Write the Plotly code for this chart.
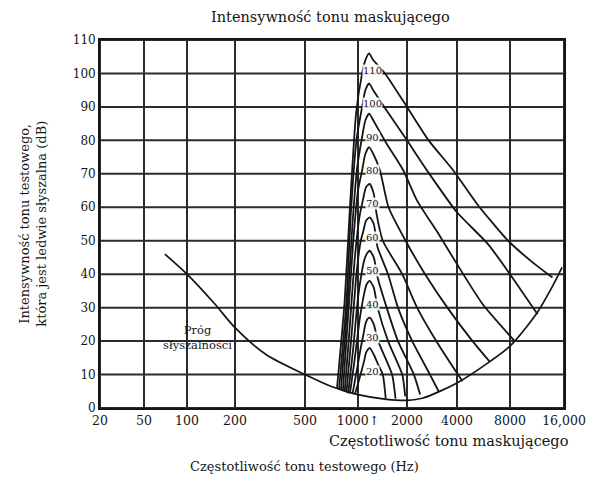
import numpy as np
import plotly.graph_objects as go

# ---- axis definition (frequency gridlines of the reference, non-uniform scale) ----
GRID_FREQS = [20, 50, 100, 200, 500, 1000, 2000, 4000, 8000, 16000]
GRID_POS = [0, 44, 87, 135, 205, 258, 307, 357, 410, 464]
TICK_TEXT = ["20", "50", "100", "200", "500", "1000\u2191", "2000", "4000", "8000", "16,000"]
Y_TICKS = [0, 10, 20, 30, 40, 50, 60, 70, 80, 90, 100, 110]

# ---- threshold of hearing ----
THR_F = [70, 100, 150, 200, 300, 500, 700, 1000, 1500, 2000, 2500, 4000, 6000, 8000, 11300, 14000, 15600]
THR_DB = [46, 40, 31, 24, 16, 10, 6.5, 4, 2.6, 2.3, 3, 7.5, 13.5, 18.5, 28.4, 37, 42]

# ---- masking curves, masker 1000 Hz, level in dB ----
M110_F = [760, 840, 900, 975, 1060, 1110, 1170, 1240, 1465, 2000, 2700, 3800, 5200, 7800, 11000, 13800]
M110_DB = [6, 32, 60, 88, 100, 104, 106, 104, 100, 90, 80, 71, 61, 50, 43, 39]
M100_F = [780, 860, 910, 980, 1060, 1110, 1170, 1240, 1450, 2000, 2640, 4000, 6000, 8000, 11400]
M100_DB = [5.5, 32, 58, 80, 90, 95, 97, 95, 90, 80, 71, 58.5, 49, 40, 28]
M90_F = [800, 870, 930, 990, 1060, 1110, 1170, 1240, 1500, 1900, 2300, 3100, 4000, 5600, 8500]
M90_DB = [5.3, 30, 55, 72, 81, 86, 88, 86, 79, 71, 62, 52, 43, 31, 20]
M80_F = [820, 880, 940, 1000, 1060, 1110, 1170, 1240, 1365, 1540, 1960, 2570, 3500, 4900, 6100]
M80_DB = [5, 28, 50, 65, 71, 76, 78, 76, 71, 60, 50, 40, 30, 20, 14]
M70_F = [840, 900, 960, 1020, 1070, 1120, 1180, 1250, 1300, 1420, 1870, 2300, 3000, 4050, 4300]
M70_DB = [4.8, 25, 45, 57, 62, 66, 67, 64, 58, 50, 40, 30, 20, 10, 8]
M60_F = [860, 920, 980, 1040, 1080, 1120, 1180, 1250, 1320, 1530, 1760, 2150, 2750, 3100]
M60_DB = [4.6, 22, 40, 50, 53, 56, 57, 55, 48, 40, 30, 20, 10, 5]
M50_F = [880, 940, 1000, 1050, 1090, 1130, 1180, 1250, 1320, 1500, 1760, 2200, 2400]
M50_DB = [4.4, 18, 33, 40, 44, 46, 47, 45, 39, 30, 20, 10, 4]
M40_F = [900, 960, 1020, 1060, 1100, 1130, 1180, 1250, 1320, 1530, 1870, 1950]
M40_DB = [4.3, 15, 26, 31, 35, 37, 38, 36, 30, 20, 10, 3.5]
M30_F = [930, 990, 1040, 1080, 1110, 1140, 1180, 1250, 1330, 1620, 1700]
M30_DB = [4.1, 12, 18, 22, 25, 26.5, 27, 25, 20, 10, 2.8]
M20_F = [960, 1010, 1050, 1090, 1120, 1150, 1180, 1250, 1330, 1420, 1480]
M20_DB = [4, 8, 11, 14, 16.5, 17.5, 18, 16, 13, 10, 2.8]

MASK_LEVELS = [110, 100, 90, 80, 70, 60, 50, 40, 30, 20]
MASK_F = [M110_F, M100_F, M90_F, M80_F, M70_F, M60_F, M50_F, M40_F, M30_F, M20_F]
MASK_DB = [M110_DB, M100_DB, M90_DB, M80_DB, M70_DB, M60_DB, M50_DB, M40_DB, M30_DB, M20_DB]


def to_axis(f):
    return np.interp(np.log10(np.asarray(f, dtype=float)), np.log10(GRID_FREQS), GRID_POS)


FONT = "DejaVu Serif"
INK = "#151515"
GRID = "#2a2a2a"

fig = go.Figure()

# grid lines: one trace per line, drawn first so they sit below the curves
for p in GRID_POS:
    fig.add_trace(go.Scatter(x=[p, p], y=[Y_TICKS[0], Y_TICKS[-1]], mode="lines",
                             line=dict(color=GRID, width=2), hoverinfo="skip", showlegend=False))
for v in Y_TICKS:
    fig.add_trace(go.Scatter(x=[GRID_POS[0], GRID_POS[-1]], y=[v, v], mode="lines",
                             line=dict(color=GRID, width=2), hoverinfo="skip", showlegend=False))

for lev, f, db in zip(MASK_LEVELS, MASK_F, MASK_DB):
    fig.add_trace(go.Scatter(x=to_axis(f), y=db, mode="lines",
                             line=dict(color=INK, width=1.8, shape="spline", smoothing=0.6),
                             hoverinfo="skip", showlegend=False))

fig.add_trace(go.Scatter(x=to_axis(THR_F), y=THR_DB, mode="lines",
                         line=dict(color=INK, width=1.7, shape="spline", smoothing=0.8),
                         hoverinfo="skip", showlegend=False))

# curve level labels under the peaks
for lev in MASK_LEVELS:
    fig.add_annotation(x=float(to_axis(1235)), y=lev - 9, text=str(lev), showarrow=False,
                       font=dict(family=FONT, size=10, color=INK),
                       bgcolor="rgba(255,255,255,0.85)", borderpad=0)

fig.add_annotation(x=float(to_axis(117)), y=21, text="Próg<br>słyszalności", showarrow=False,
                   font=dict(family=FONT, size=11.5, color=INK), align="center",
                   xanchor="center", yanchor="middle")

fig.add_annotation(xref="paper", yref="paper", x=0.496, y=1, xanchor="center", yanchor="bottom",
                   yshift=13, text="Intensywność tonu maskującego", showarrow=False,
                   font=dict(family=FONT, size=14.5, color=INK))
fig.add_annotation(xref="paper", yref="paper", x=0.75, y=0, xanchor="center", yanchor="middle",
                   yshift=-33, text="Częstotliwość tonu maskującego", showarrow=False,
                   font=dict(family=FONT, size=14.5, color=INK))
fig.add_annotation(xref="paper", yref="paper", x=0.44, y=0, xanchor="center", yanchor="middle",
                   yshift=-58, text="Częstotliwość tonu testowego (Hz)", showarrow=False,
                   font=dict(family=FONT, size=13, color=INK))
fig.add_annotation(xref="paper", yref="paper", x=-0.145, y=0.5, xanchor="center", yanchor="middle",
                   textangle=-90,
                   text="Intensywność tonu testowego,<br>która jest ledwie słyszalna (dB)",
                   showarrow=False, font=dict(family=FONT, size=13, color=INK))

fig.update_xaxes(range=[GRID_POS[0], GRID_POS[-1]], tickmode="array", tickvals=GRID_POS,
                 ticktext=TICK_TEXT, showgrid=False,
                 showline=True, linecolor=INK, linewidth=1.8, mirror=True, ticks="",
                 zeroline=False, tickfont=dict(family=FONT, size=12.5, color=INK))
fig.update_yaxes(range=[0, 110], tickmode="array", tickvals=Y_TICKS,
                 showgrid=False,
                 showline=True, linecolor=INK, linewidth=1.8, mirror=True, ticks="",
                 zeroline=False, tickfont=dict(family=FONT, size=12, color=INK))

fig.update_layout(width=611, height=481, margin=dict(l=100, r=47, t=40, b=73),
                  paper_bgcolor="white", plot_bgcolor="white", showlegend=False)

fig.write_html("out.html")
